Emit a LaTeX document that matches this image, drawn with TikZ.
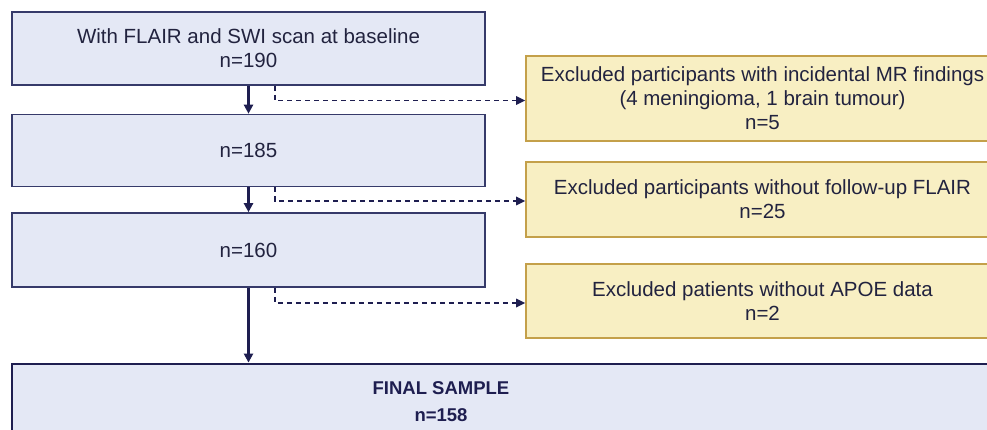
\documentclass[tikz,border=0pt]{standalone}
\usepackage{fontspec}
\setmainfont{Liberation Sans}
\usetikzlibrary{arrows.meta,calc}
\definecolor{bluefill}{HTML}{E4E8F5}
\definecolor{blueline}{HTML}{363A6A}
\definecolor{yelfill}{HTML}{F8EFC3}
\definecolor{yelline}{HTML}{C4A04A}
\definecolor{arrcol}{HTML}{1E1E50}
\definecolor{txtcol}{HTML}{22233F}
\tikzset{
  bluebox/.style={draw=blueline, fill=bluefill, line width=1.6pt, minimum width=473pt, inner sep=0pt,
    text=txtcol, align=center, font=\fontsize{20.5}{24}\selectfont},
  yelbox/.style={draw=yelline, fill=yelfill, line width=1.6pt, minimum width=473pt, inner sep=0pt,
    text=txtcol, align=center, font=\fontsize{20.5}{24}\selectfont},
  finalbox/.style={draw=arrcol, fill=bluefill, line width=2.8pt, minimum width=988pt, minimum height=86pt, inner sep=0pt},
  finaltext/.style={text=arrcol, align=center, font=\bfseries\fontsize{18.5}{27}\selectfont},
  solidarr/.style={draw=arrcol, line width=3pt, -{Triangle[length=9pt,width=9pt]}},
  dasharr/.style={draw=arrcol, line width=1.7pt, dash pattern=on 5pt off 4pt, -{Triangle[length=9pt,width=8.5pt]}}
}
\begin{document}
\begin{tikzpicture}[x=1pt,y=-1pt]
\useasboundingbox (0,0) rectangle (987,430);
\clip (0,0) rectangle (987,430);
\fill[white] (0,0) rectangle (987,430);

\node[bluebox, minimum height=73pt] (b1) at (248.5,48.5) {With FLAIR and SWI scan at baseline\\n=190};
\node[bluebox, minimum height=72pt] (b2) at (248.5,150.5) {n=185};
\node[bluebox, minimum height=74pt] (b3) at (248.5,250) {n=160};

\node[yelbox, minimum height=85pt] (y1) at (762.5,98.5) {Excluded participants with incidental MR findings\\(4 meningioma, 1 brain tumour)\\n=5};
\node[yelbox, minimum height=75pt] (y2) at (762.5,199.5) {Excluded participants without follow-up FLAIR\\n=25};
\node[yelbox, minimum height=74pt] (y3) at (762.5,301) {Excluded patients without APOE data\\n=2};

\node[finalbox] (fin) at (506,407) {};
\node[finaltext] (fintxt) at (441,401.5) {FINAL SAMPLE\\n=158};

\draw[solidarr] (b1) -- (b2);
\draw[solidarr] (b2) -- (b3);
\draw[solidarr] (b3.south) -- (b3.south |- fin.north);

\coordinate (d1) at ($(b1.south)+(26.5,0)$);
\coordinate (d2) at ($(b2.south)+(26.5,0)$);
\coordinate (d3) at ($(b3.south)+(26.5,0)$);
\draw[dasharr] (d1) |- ([yshift=-2pt]y1.west);
\draw[dasharr] (d2) |- ([yshift=-1.5pt]y2.west);
\draw[dasharr] (d3) |- ([yshift=-2pt]y3.west);
\end{tikzpicture}
\end{document}
